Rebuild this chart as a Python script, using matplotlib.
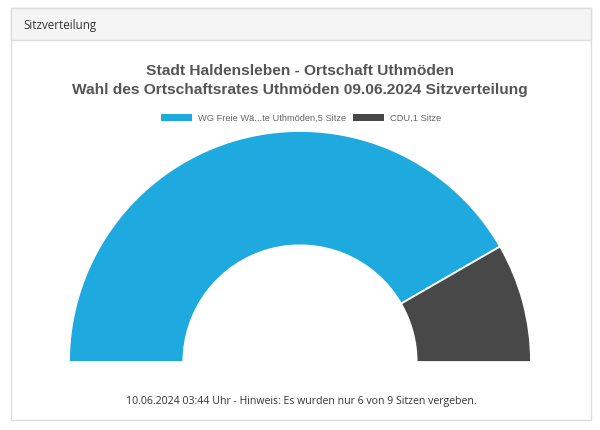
import matplotlib
matplotlib.use("Agg")
import matplotlib.pyplot as plt
from matplotlib.patches import Rectangle

# ---- data ----
parties = ["WG Freie Wä...te Uthmöden", "CDU"]
seats = [5, 1]
colors = ["#1ea9df", "#484848"]
title_lines = ["Stadt Haldensleben - Ortschaft Uthmöden",
               "Wahl des Ortschaftsrates Uthmöden 09.06.2024 Sitzverteilung"]
header = "Sitzverteilung"
footer = "10.06.2024 03:44 Uhr - Hinweis: Es wurden nur 6 von 9 Sitzen vergeben."

W, H = 600, 431
fig = plt.figure(figsize=(W / 100, H / 100), dpi=100)
fig.patch.set_facecolor("white")

# background axes in pixel coordinates
bg = fig.add_axes([0, 0, 1, 1])
bg.set_xlim(0, W)
bg.set_ylim(H, 0)
bg.axis("off")

# card
bg.add_patch(Rectangle((10.5, 8.5), 580, 413, facecolor="white",
                       edgecolor="#dddddd", linewidth=1, zorder=1))
bg.add_patch(Rectangle((10.5, 8.5), 580, 32, facecolor="#f5f5f5",
                       edgecolor="#dddddd", linewidth=1, zorder=2))
bg.text(23, 25.5, header, fontsize=8.4, family="Open Sans", color="#333333",
        va="center", ha="left", zorder=3)

# title
bg.text(300, 71, title_lines[0], fontsize=11.15, family="Liberation Sans",
        fontweight="bold", color="#555555", ha="center", va="center", zorder=3)
bg.text(300, 90, title_lines[1], fontsize=11.15, family="Liberation Sans",
        fontweight="bold", color="#555555", ha="center", va="center", zorder=3)

# legend
leg_x = [161, 353]
for i, (p, s) in enumerate(zip(parties, seats)):
    x = leg_x[i]
    bg.add_patch(Rectangle((x, 114.5), 31, 7, facecolor=colors[i],
                           edgecolor="none", zorder=3))
    bg.text(x + 37, 118, f"{p},{s} Sitze", fontsize=6.65, family="Liberation Sans",
            color="#666666", ha="left", va="center", zorder=3)

# footer
bg.text(301.5, 402, footer, fontsize=7.6, family="Open Sans", color="#333333",
        ha="center", va="center", zorder=3)

# half donut: center (300, 363) px, radius 231 px
R = 231
cx, cy = 300, 363
ax = fig.add_axes([(cx - R) / W, (H - cy - R) / H, 2 * R / W, 2 * R / H])
ax.set_zorder(5)
ax.patch.set_visible(False)
vals = seats + [sum(seats)]
wedges, _ = ax.pie(vals, colors=colors + ["white"], startangle=180,
                   counterclock=False, radius=1,
                   wedgeprops=dict(width=0.495, edgecolor="white", linewidth=1.3))
wedges[-1].set_visible(False)
ax.set_xlim(-1, 1)
ax.set_ylim(-1, 1)
ax.set_aspect("equal")
ax.axis("off")

fig.savefig("out.png", dpi=100, facecolor="white")
